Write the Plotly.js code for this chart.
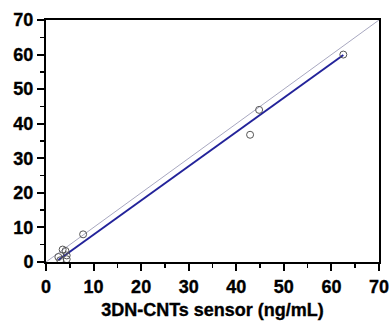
<!DOCTYPE html>
<html>
<head>
<meta charset="utf-8">
<script src="https://cdn.plot.ly/plotly-3.0.1.min.js"></script>
<style>
html,body{margin:0;padding:0;background:#fff;}
#chart{width:392px;height:325px;}
#chart .xtick text, #chart .ytick text, #chart .xtitle {stroke:#000; stroke-width:0.35px;}
</style>
</head>
<body>
<div id="chart"></div>
<script>
// Measured pairs: 3DN-CNTs sensor (x) vs reference method (y), ng/mL
const sensorX = [2.6, 3.0, 3.5, 4.1, 4.35, 4.35, 7.8, 42.9, 44.8, 62.5];
const referenceY = [1.45, 0.5, 3.6, 3.2, 1.9, 0.8, 8.0, 36.8, 44.0, 60.0];
// Linear fit parameters
const fitSlope = 0.99;
const fitIntercept = -2.0;
// Identity line extent
const identityRange = [0, 70];
// Tick values and labels (both axes)
const tickValues = [0, 10, 20, 30, 40, 50, 60, 70];
const tickLabels = ['0', '10', '20', '30', '40', '50', '60', '70'];
const xTitle = '3DN-CNTs sensor (ng/mL)';

const fitX = [Math.min(...sensorX), Math.max(...sensorX)];
const fitY = fitX.map(v => fitSlope * v + fitIntercept);

const font = {family: 'Liberation Sans, Arial, sans-serif', size: 18, color: '#000', weight: 'bold'};

const traces = [
  {x: identityRange, y: identityRange, mode: 'lines', line: {color: '#a8a8c0', width: 1}, hoverinfo: 'skip'},
  {x: fitX, y: fitY, mode: 'lines', line: {color: '#23239a', width: 2}},
  {x: sensorX, y: referenceY, mode: 'markers', marker: {symbol: 'circle-open', size: 7, color: '#555', line: {width: 1, color: '#555'}}}
];

const axisBase = {
  range: [0, 70], tickmode: 'array', tickvals: tickValues, ticktext: tickLabels.map(t => '<b>' + t + '</b>'),
  ticks: 'outside', ticklen: 7, tickwidth: 2, tickcolor: '#000',
  showline: true, linewidth: 2, linecolor: '#000', mirror: true,
  showgrid: false, zeroline: false, tickfont: font,
  minor: {dtick: 5, tick0: 0, ticks: 'outside', ticklen: 4, tickwidth: 1.5, tickcolor: '#000', showgrid: false}
};

const layout = {
  width: 392, height: 325,
  margin: {l: 46, r: 13, t: 20, b: 63},
  showlegend: false,
  paper_bgcolor: '#fff', plot_bgcolor: '#fff',
  xaxis: Object.assign({}, axisBase, {title: {text: '<b>' + xTitle + '</b>', font: font, standoff: 8}}),
  yaxis: Object.assign({}, axisBase, {})
};

Plotly.newPlot('chart', traces, layout, {staticPlot: true, displayModeBar: false});
</script>
</body>
</html>
